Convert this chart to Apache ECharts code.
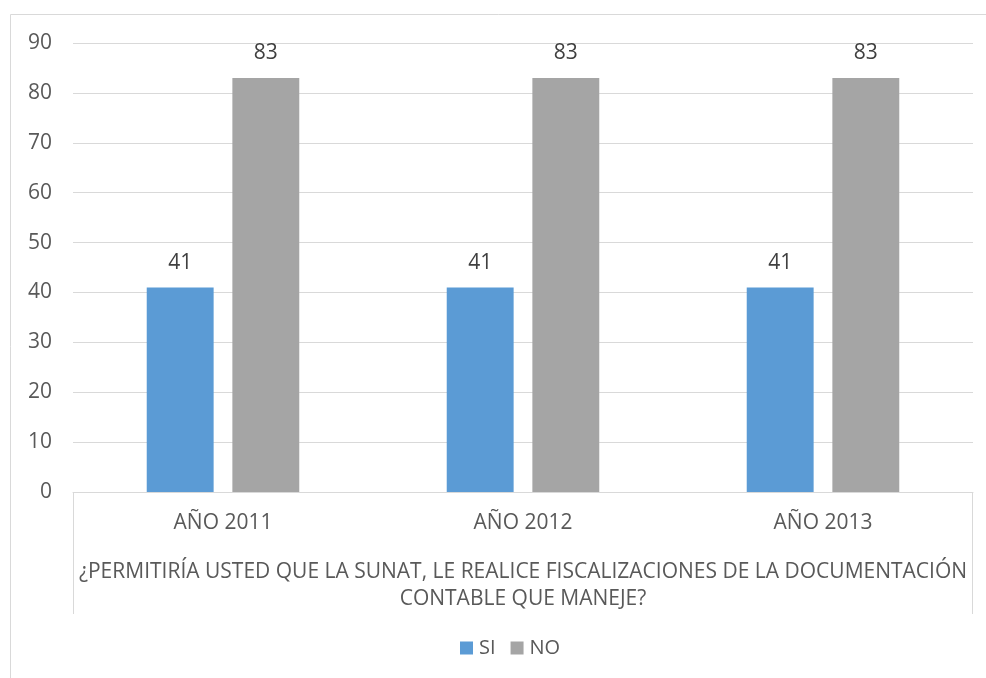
<!DOCTYPE html>
<html><head><meta charset="utf-8">
<script src="https://cdn.jsdelivr.net/npm/echarts@6/dist/echarts.min.js"></script>
<style>html,body{margin:0;padding:0;background:#fff}#c{width:986px;height:678px}</style>
</head><body><div id="c"></div>
<script>
const categories = ['AÑO 2011', 'AÑO 2012', 'AÑO 2013'];
const siValues = [41, 41, 41];
const noValues = [83, 83, 83];
const yTicks = [0, 10, 20, 30, 40, 50, 60, 70, 80, 90];
const axisTitle = '¿PERMITIRÍA USTED QUE LA SUNAT, LE REALICE FISCALIZACIONES DE LA DOCUMENTACIÓN\nCONTABLE QUE MANEJE?';

const FONT = 'Open Sans';
const FS = 21;
const chart = echarts.init(document.getElementById('c'));
const gridL = 73, gridR = 13, gridT = 43, gridB = 186;
chart.setOption({
  animation: false,
  textStyle: { fontFamily: FONT },
  grid: { left: gridL, right: gridR, top: gridT, bottom: gridB },
  legend: {
    top: 638, left: 460, padding: 0, itemWidth: 13, itemHeight: 13, itemGap: 15,
    icon: 'rect', textStyle: { color: '#595959', fontSize: 20, fontFamily: FONT, padding: [0, 0, 0, 1] },
    data: ['SI', 'NO']
  },
  xAxis: {
    type: 'category', data: categories,
    axisLine: { lineStyle: { color: '#d9d9d9', width: 1 } },
    axisTick: { show: false },
    axisLabel: { color: '#595959', fontSize: FS, margin: 21 },
    name: axisTitle, nameLocation: 'middle', nameGap: 67,
    nameTextStyle: { color: '#595959', fontSize: FS, lineHeight: 27 }
  },
  yAxis: {
    type: 'value', min: yTicks[0], max: yTicks[yTicks.length - 1], interval: 10,
    axisLine: { show: false }, axisTick: { show: false },
    axisLabel: { color: '#595959', fontSize: FS, margin: 21 },
    splitLine: { lineStyle: { color: '#d9d9d9', width: 1 } }
  },
  series: [
    { name: 'SI', type: 'bar', data: siValues, barWidth: '22.3%', barGap: '28%',
      itemStyle: { color: '#5b9bd5' },
      label: { show: true, position: 'top', distance: 14, color: '#404040', fontSize: FS } },
    { name: 'NO', type: 'bar', data: noValues, barWidth: '22.3%', barGap: '28%',
      itemStyle: { color: '#a5a5a5' },
      label: { show: true, position: 'top', distance: 14, color: '#404040', fontSize: FS } }
  ]
});
const x0 = gridL, x1 = 986 - gridR, y0 = 678 - gridB;
chart.setOption({
  graphic: [
    { type: 'polyline', shape: { points: [[10.5, 678], [10.5, 14.5], [986, 14.5]] },
      style: { stroke: '#d9d9d9', fill: null, lineWidth: 1 }, silent: true },
    { type: 'line', shape: { x1: x0 + 0.5, y1: y0, x2: x0 + 0.5, y2: 614 },
      style: { stroke: '#d9d9d9', lineWidth: 1 }, silent: true },
    { type: 'line', shape: { x1: x1 - 0.5, y1: y0, x2: x1 - 0.5, y2: 614 },
      style: { stroke: '#d9d9d9', lineWidth: 1 }, silent: true }
  ]
});
</script></body></html>
